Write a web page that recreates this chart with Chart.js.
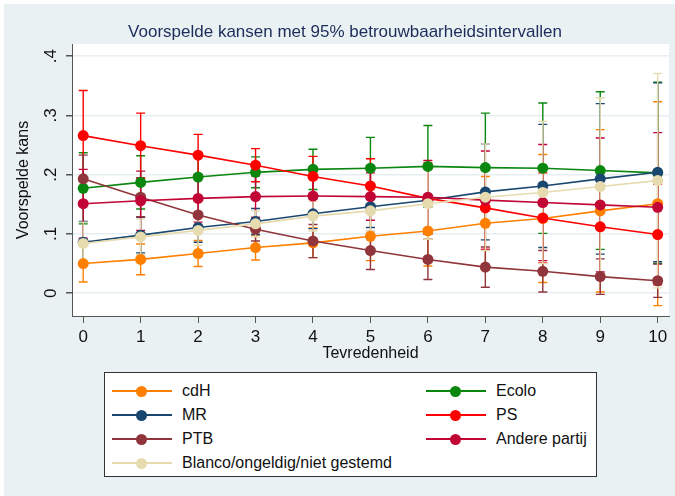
<!DOCTYPE html>
<html>
<head>
<meta charset="utf-8">
<script src="https://cdn.jsdelivr.net/npm/chart.js@4/dist/chart.umd.min.js"></script>
<style>
  body { margin: 0; background: #fff; font-family: "Liberation Sans", Arial, sans-serif; }
  #wrap { position: relative; width: 675px; height: 496px; }
  #legend {
    position: absolute; left: 104px; top: 372px; width: 493px; height: 105px;
    background: #fff; border: 1px solid #333; box-sizing: border-box;
  }
  .item { position: absolute; height: 20px; font-size: 16px; color: #111; white-space: nowrap; }
  .item .sym { position: absolute; left: 0; top: 9px; width: 60px; height: 2px; }
  .item .dot { position: absolute; left: 24px; top: -4px; width: 11px; height: 11px; border-radius: 50%; }
  .item .lbl { position: absolute; left: 70px; top: 0; line-height: 20px; }
</style>
</head>
<body>
<div id="wrap">
  <canvas id="chart" width="675" height="496"></canvas>
  <div id="legend"></div>
</div>
<script>
// Tevredenheid 0-10
const xTicks = [0, 1, 2, 3, 4, 5, 6, 7, 8, 9, 10];
const yTicks = [0, 0.1, 0.2, 0.3, 0.4];
const yTickLabels = ["0", ".1", ".2", ".3", ".4"];

// predicted probabilities
const cdH = [0.050, 0.057, 0.067, 0.077, 0.085, 0.096, 0.105, 0.118, 0.126, 0.139, 0.151];
const ecolo = [0.177, 0.187, 0.196, 0.204, 0.209, 0.211, 0.214, 0.212, 0.211, 0.207, 0.203];
const mr = [0.086, 0.098, 0.111, 0.121, 0.134, 0.146, 0.157, 0.171, 0.181, 0.193, 0.204];
const ps = [0.266, 0.249, 0.233, 0.216, 0.197, 0.181, 0.160, 0.144, 0.127, 0.112, 0.099];
const ptb = [0.193, 0.162, 0.132, 0.108, 0.088, 0.072, 0.057, 0.044, 0.037, 0.028, 0.021];
const andere = [0.151, 0.156, 0.160, 0.163, 0.164, 0.163, 0.162, 0.157, 0.153, 0.149, 0.145];
const blanco = [0.084, 0.095, 0.106, 0.117, 0.130, 0.139, 0.151, 0.162, 0.170, 0.180, 0.190];

// half width of the 95% intervals
const cdHErr = [0.031, 0.026, 0.022, 0.021, 0.025, 0.041, 0.059, 0.079, 0.108, 0.137, 0.172];
const ecoloErr = [0.060, 0.045, 0.035, 0.026, 0.034, 0.052, 0.069, 0.092, 0.110, 0.133, 0.153];
const mrErr = [0.035, 0.030, 0.025, 0.022, 0.025, 0.035, 0.055, 0.081, 0.104, 0.127, 0.151];
const psErr = [0.076, 0.055, 0.035, 0.028, 0.034, 0.046, 0.060, 0.070, 0.076, 0.080, 0.085];
const ptbErr = [0.040, 0.033, 0.025, 0.020, 0.028, 0.032, 0.034, 0.034, 0.035, 0.030, 0.028];
const andereErr = [0.058, 0.050, 0.040, 0.035, 0.030, 0.040, 0.062, 0.083, 0.098, 0.113, 0.126];
const blancoErr = [0.036, 0.030, 0.025, 0.022, 0.025, 0.035, 0.060, 0.090, 0.120, 0.150, 0.181];

const labels = ["cdH", "Ecolo", "MR", "PS", "PTB", "Andere partij", "Blanco/ongeldig/niet gestemd"];
const values = [cdH, ecolo, mr, ps, ptb, andere, blanco];
const errors = [cdHErr, ecoloErr, mrErr, psErr, ptbErr, andereErr, blancoErr];
const colors = ["#ff8000", "#0a870f", "#1a476f", "#ff0000", "#90353b", "#c10534", "#e6dbae"];

const FONT = '"Liberation Sans", Arial, sans-serif';

const datasets = labels.map((l, i) => ({
  label: l,
  data: xTicks.map((x, j) => ({ x: x, y: values[i][j] })),
  err: errors[i],
  borderColor: colors[i],
  backgroundColor: colors[i],
  pointBackgroundColor: colors[i],
  pointBorderWidth: 0,
  pointRadius: 5.5,
  borderWidth: 1.6,
  order: labels.length - i, // later series on top
}));

// background, plot region and error bars
const backdrop = {
  id: "backdrop",
  beforeDraw(chart) {
    const { ctx, chartArea: a } = chart;
    ctx.save();
    ctx.fillStyle = "#fff";
    ctx.fillRect(0, 0, chart.width, chart.height);
    ctx.fillStyle = "#eaf1f3";
    ctx.fillRect(4, 4, chart.width - 4, chart.height - 4);
    ctx.fillStyle = "#fff";
    ctx.fillRect(a.left, a.top, a.right - a.left, a.bottom - a.top);
    ctx.restore();
  },
  beforeDatasetsDraw(chart) {
    const { ctx, scales: { x, y } } = chart;
    ctx.save();
    ctx.lineWidth = 1.4;
    chart.data.datasets.forEach((ds) => {
      ctx.strokeStyle = ds.borderColor;
      ds.data.forEach((p, j) => {
        const px = x.getPixelForValue(p.x);
        const lo = y.getPixelForValue(p.y - ds.err[j]);
        const hi = y.getPixelForValue(p.y + ds.err[j]);
        ctx.beginPath();
        ctx.moveTo(px, lo); ctx.lineTo(px, hi);
        ctx.moveTo(px - 4.5, lo); ctx.lineTo(px + 4.5, lo);
        ctx.moveTo(px - 4.5, hi); ctx.lineTo(px + 4.5, hi);
        ctx.stroke();
      });
    });
    ctx.restore();
  },
};

// title, axis titles and rotated y labels
const texts = {
  id: "texts",
  afterDraw(chart) {
    const { ctx, chartArea: a, scales: { y } } = chart;
    ctx.save();
    ctx.textAlign = "center";
    ctx.textBaseline = "middle";
    ctx.fillStyle = "#1c2c5b";
    ctx.font = "17px " + FONT;
    ctx.fillText("Voorspelde kansen met 95% betrouwbaarheidsintervallen", 345, 32);

    ctx.fillStyle = "#111";
    ctx.font = "17px " + FONT;
    yTicks.forEach((v, i) => {
      ctx.save();
      ctx.translate(51, y.getPixelForValue(v));
      ctx.rotate(-Math.PI / 2);
      ctx.fillText(yTickLabels[i], 0, 0);
      ctx.restore();
    });

    ctx.font = "16px " + FONT;
    ctx.fillText("Tevredenheid", (a.left + a.right) / 2, 354);
    ctx.save();
    ctx.translate(24, (a.top + a.bottom) / 2);
    ctx.rotate(-Math.PI / 2);
    ctx.fillText("Voorspelde kans", 0, 0);
    ctx.restore();
    ctx.restore();
  },
};

const chart = new Chart(document.getElementById("chart"), {
  type: "line",
  data: { datasets: datasets },
  options: {
    responsive: false,
    animation: false,
    events: [],
    layout: { padding: { left: 0, right: 6, top: 44, bottom: 120 } },
    plugins: { legend: { display: false }, tooltip: { enabled: false } },
    scales: {
      x: {
        type: "linear",
        min: -0.195,
        max: 10.197,
        afterBuildTicks: (s) => { s.ticks = xTicks.map((v) => ({ value: v })); },
        afterFit: (s) => { s.height = 60; },
        grid: { drawOnChartArea: false, tickLength: 7, tickColor: "#555", lineWidth: 1 },
        border: { color: "#555", width: 1 },
        ticks: { color: "#111", font: { family: FONT, size: 17 }, padding: 4, maxRotation: 0 },
      },
      y: {
        min: -0.0385,
        max: 0.4206,
        afterBuildTicks: (s) => { s.ticks = yTicks.map((v) => ({ value: v })); },
        afterFit: (s) => { s.width = 72; },
        grid: { color: "#e6eef1", lineWidth: 1.5, tickLength: 6, tickColor: "#555" },
        border: { color: "#555", width: 1 },
        ticks: { display: false },
      },
    },
  },
  plugins: [backdrop, texts],
});

// two-column legend, filled row by row
const legend = document.getElementById("legend");
chart.data.datasets.forEach((ds, i) => {
  const item = document.createElement("div");
  item.className = "item";
  item.style.left = (i % 2 === 0 ? 7 : 321) + "px";
  item.style.top = (8 + Math.floor(i / 2) * 24) + "px";
  item.innerHTML = `<div class="sym" style="background:${ds.borderColor}"><div class="dot" style="background:${ds.borderColor}"></div></div><span class="lbl">${ds.label}</span>`;
  legend.appendChild(item);
});
</script>
</body>
</html>
